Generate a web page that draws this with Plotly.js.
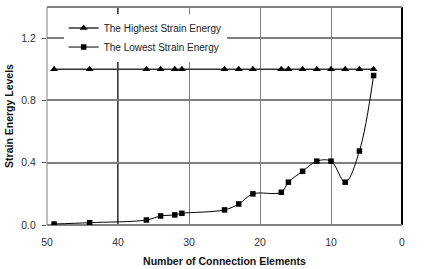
<!DOCTYPE html>
<html>
<head>
<meta charset="utf-8">
<script src="https://cdn.plot.ly/plotly-3.0.1.min.js"></script>
<style>html,body{margin:0;padding:0;background:#fff;}#chart{width:429px;height:269px;}</style>
</head>
<body>
<div id="chart"></div>
<script>
const connectionElements = [49, 44, 36, 34, 32, 31, 25, 23, 21, 17, 16, 14, 12, 10, 8, 6, 4];
const highestEnergy = [1, 1, 1, 1, 1, 1, 1, 1, 1, 1, 1, 1, 1, 1, 1, 1, 1];
const lowestEnergy = [0.006, 0.015, 0.032, 0.058, 0.065, 0.075, 0.097, 0.135, 0.2, 0.21, 0.275, 0.345, 0.41, 0.41, 0.275, 0.475, 0.96];
const xTicks = [50, 40, 30, 20, 10, 0];
const yTicks = [0, 0.4, 0.8, 1.2];
const yTickText = ['0.0', '0.4', '0.8', '1.2'];

const font = 'Liberation Sans, Arial, sans-serif';

const traces = [
  {
    x: connectionElements, y: highestEnergy, name: 'The Highest Strain Energy',
    mode: 'lines+markers', type: 'scatter',
    line: {color: '#333', width: 1.6},
    marker: {symbol: 'triangle-up', size: 7, color: '#000'}
  },
  {
    x: connectionElements, y: lowestEnergy, name: 'The Lowest Strain Energy',
    mode: 'lines+markers', type: 'scatter',
    line: {color: '#000', width: 1, shape: 'spline', smoothing: 1},
    marker: {symbol: 'square', size: 5.5, color: '#000'}
  }
];

const layout = {
  width: 429, height: 269,
  margin: {l: 47, r: 27, t: 7, b: 44, pad: 0},
  paper_bgcolor: '#fff', plot_bgcolor: '#fff',
  font: {family: font, size: 10, color: '#222'},
  showlegend: true,
  legend: {
    x: 0.047, y: 0.97, xanchor: 'left', yanchor: 'top',
    bgcolor: '#fff', borderwidth: 0,
    font: {family: font, size: 10, color: '#222'},
    tracegroupgap: 0
  },
  xaxis: {
    range: [50, 0], tickvals: xTicks, ticktext: xTicks.map(String),
    showgrid: true, gridcolor: '#808080', gridwidth: 1,
    zeroline: true, zerolinecolor: '#000', zerolinewidth: 1.5,
    showline: false, ticks: '', ticklabelstandoff: 9,
    tickfont: {family: font, size: 10.5, color: '#333'},
    title: {text: '<b>Number of Connection Elements</b>', font: {family: font, size: 10.5, color: '#111'}, standoff: 11}
  },
  yaxis: {
    range: [0, 1.4], tickvals: yTicks, ticktext: yTickText,
    showgrid: true, gridcolor: '#808080', gridwidth: 2,
    zeroline: true, zerolinecolor: '#808080', zerolinewidth: 2,
    showline: false, ticks: 'outside', ticklen: 4, tickcolor: '#555', ticklabelstandoff: 4,
    tickfont: {family: font, size: 10.5, color: '#333'},
    title: {text: '<b>Strain Energy Levels</b>', font: {family: font, size: 10.5, color: '#111'}, standoff: 5}
  },
  shapes: [
    {type: 'line', xref: 'x', yref: 'paper', x0: 40, x1: 40, y0: 0, y1: 1, line: {color: '#000', width: 1.5}, layer: 'below'},
    {type: 'line', xref: 'paper', yref: 'paper', x0: 0, x1: 1, y0: 1, y1: 1, line: {color: '#808080', width: 2}},
    {type: 'line', xref: 'paper', yref: 'paper', x0: 0, x1: 0, y0: 0, y1: 1, line: {color: '#808080', width: 1}}
  ]
};

Plotly.newPlot('chart', traces, layout, {displayModeBar: false, staticPlot: true});
</script>
</body>
</html>
